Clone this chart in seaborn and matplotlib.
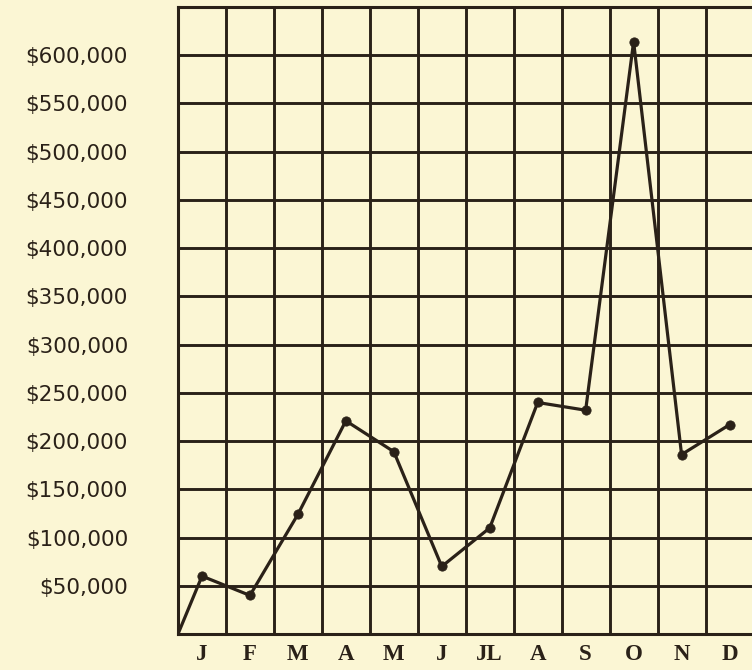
import numpy as np
import matplotlib
matplotlib.use('Agg')
import matplotlib.pyplot as plt
import seaborn as sns
import pandas as pd

# monthly values (dollars)
months = ['J', 'F', 'M', 'A', 'M', 'J', 'JL', 'A', 'S', 'O', 'N', 'D']
values = [60000, 40000, 124000, 221000, 189000, 70000, 110000, 240000, 232000, 614000, 186000, 217000]
start_value = 0  # line starts at zero at the beginning of the year
y_ticks = list(range(50000, 650001, 50000))
y_labels = ['$' + format(v, ',') for v in y_ticks[:-1]] + ['']

bg = '#fbf6d4'
ink = '#2a2118'

sns.set_style('white')
plt.rcParams['font.family'] = ['DejaVu Sans']

pos = np.arange(len(months))
df = pd.DataFrame({'x': np.concatenate([[-0.5], pos]),
                   'value': [start_value] + values})

fig = plt.figure(figsize=(7.52, 6.70), dpi=100, facecolor=bg)
ax = fig.add_axes([178 / 752, 1 - 634 / 670, 1 - 178 / 752 + 0.002, (634 - 7) / 670])
ax.set_facecolor(bg)

sns.lineplot(data=df, x='x', y='value', ax=ax, color=ink, linewidth=2.3, zorder=3)
sns.scatterplot(x=pos, y=values, ax=ax, color=ink, s=45, edgecolor=ink, zorder=4)

ax.set_xlim(-0.5, len(months) - 0.5)
ax.set_ylim(0, 650000)

# grid: columns per month, rows per $50,000
ax.set_xticks(pos)
ax.set_xticklabels(months, family='Liberation Serif', fontsize=16.5, fontweight='bold', color=ink)
ax.set_xticks(np.arange(-0.5, len(months)), minor=True)
ax.set_yticks(y_ticks)
ax.set_yticklabels(y_labels, fontsize=15.5, color=ink)
ax.grid(which='minor', axis='x', color=ink, linewidth=2.1)
ax.grid(which='major', axis='y', color=ink, linewidth=2.1)
ax.tick_params(which='both', length=0)
ax.tick_params(axis='y', pad=36)
ax.tick_params(axis='x', pad=7)
for s in ax.spines.values():
    s.set_color(ink)
    s.set_linewidth(2.2)
ax.set_xlabel('')
ax.set_ylabel('')

fig.savefig('out.png', dpi=100, facecolor=bg)
